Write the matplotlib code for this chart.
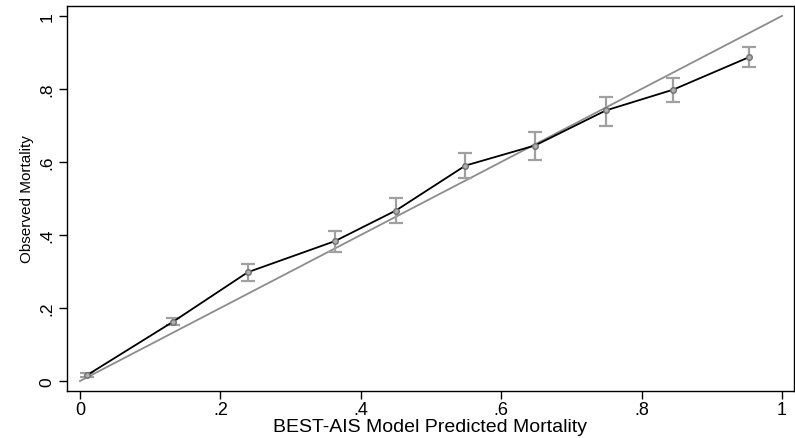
import matplotlib
matplotlib.use("Agg")
import matplotlib.pyplot as plt
import numpy as np

# calibration data
predicted = [0.010, 0.133, 0.239, 0.363, 0.450, 0.549, 0.648, 0.749, 0.845, 0.953]
observed = [0.016, 0.163, 0.298, 0.383, 0.467, 0.590, 0.645, 0.741, 0.798, 0.887]
ci_low = [0.011, 0.154, 0.275, 0.354, 0.433, 0.555, 0.605, 0.699, 0.763, 0.860]
ci_high = [0.021, 0.172, 0.321, 0.410, 0.500, 0.624, 0.681, 0.779, 0.829, 0.914]

ticks = [0, 0.2, 0.4, 0.6, 0.8, 1]
tick_labels = ["0", ".2", ".4", ".6", ".8", "1"]

plt.rcParams['font.family'] = ['Liberation Sans', 'DejaVu Sans']

fig = plt.figure(figsize=(7.95, 4.39), dpi=100)
ax = fig.add_axes([0.0843, 0.107, 0.9144, 0.877])

pred = np.array(predicted)
obs = np.array(observed)
yerr = [obs - np.array(ci_low), np.array(ci_high) - obs]

ax.plot([0, 1], [0, 1], color="#8c8c8c", lw=1.3, zorder=2)
ax.errorbar(pred, obs, yerr=yerr, fmt="none", ecolor="#a0a0a0", elinewidth=1.6,
            capsize=5, capthick=1.6, zorder=3)
ax.plot(pred, obs, color="black", lw=1.3, zorder=4)
ax.plot(pred, obs, "o", ms=4, mfc="#b0b0b0", mec="#707070", mew=1, zorder=5)

ax.set_xlim(-0.0185, 1.017)
ax.set_ylim(-0.0274, 1.027)
ax.set_xticks(ticks)
ax.set_xticklabels(tick_labels)
ax.set_yticks(ticks)
ax.set_yticklabels(tick_labels, rotation=90, va="center")
ax.tick_params(direction="out", length=6, width=1, labelsize=12.5, pad=3)
ax.tick_params(axis="x", labelsize=13, pad=1.5)

ax.set_xlabel("BEST-AIS Model Predicted Mortality", fontsize=14, labelpad=0)
ax.set_ylabel("Observed Mortality", fontsize=11, labelpad=4)

for s in ax.spines.values():
    s.set_linewidth(1)

fig.savefig("out.png", dpi=100)
